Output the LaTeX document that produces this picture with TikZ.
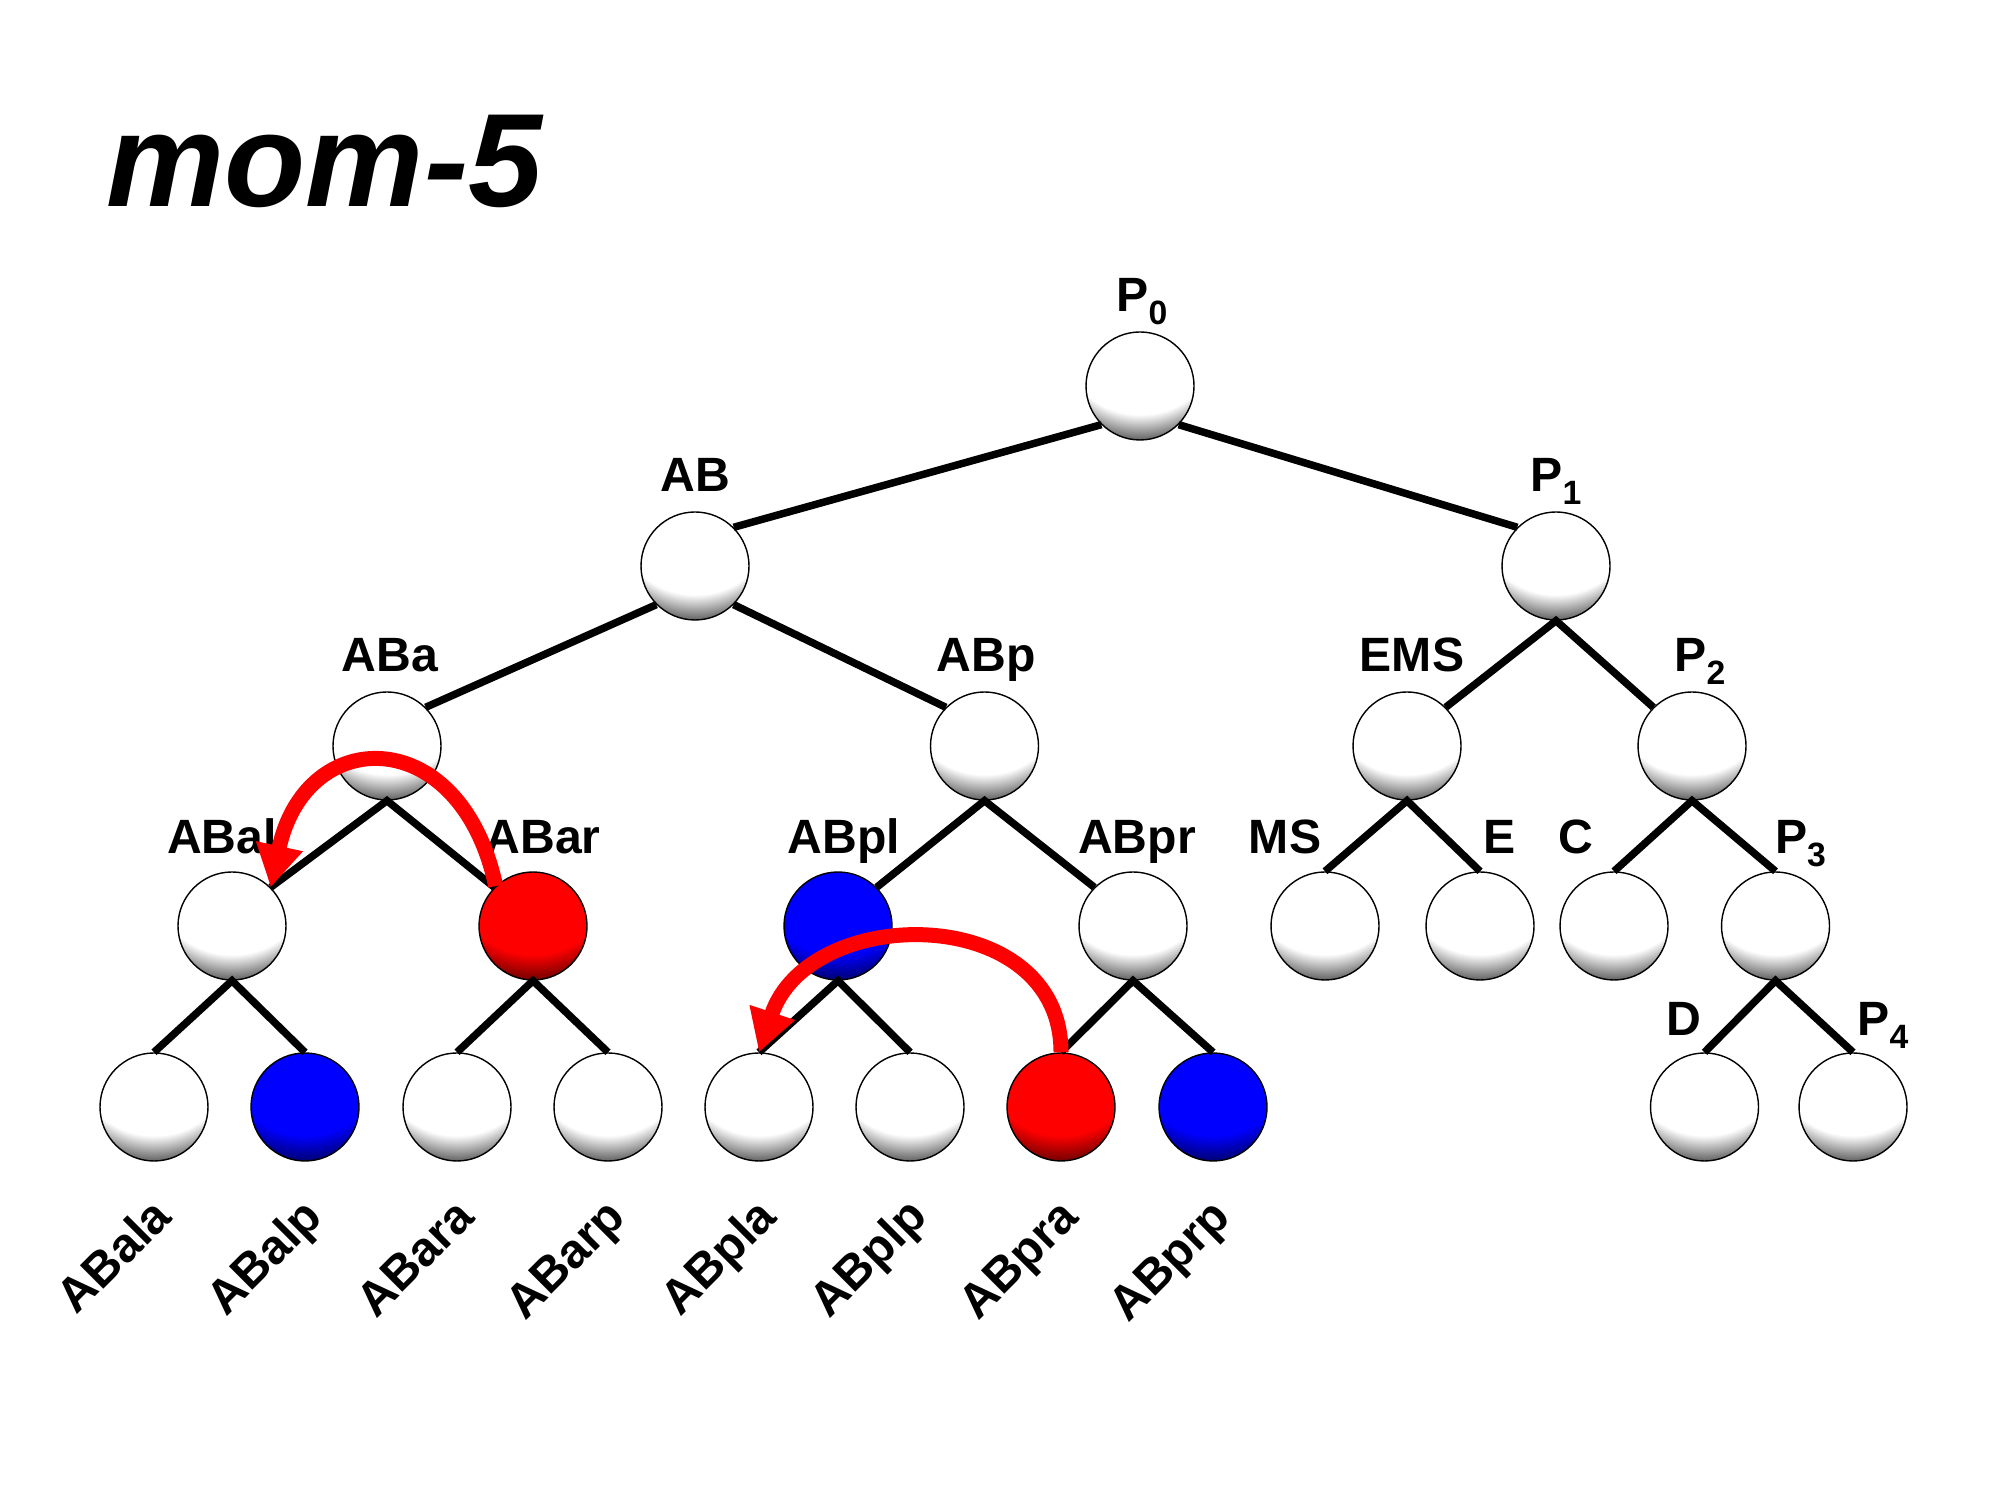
\documentclass[tikz,border=0pt]{standalone}
\usepackage{fontspec}
\setmainfont{Liberation Sans}
\usepackage{tikz}
\usetikzlibrary{calc,arrows.meta,positioning}

\pgfdeclareradialshading{cellwhite}{\pgfpoint{0bp}{40bp}}{color(0bp)=(white); color(38bp)=(white); color(46.5bp)=(black!62); color(100bp)=(black!62)}
\pgfdeclareradialshading{cellred}{\pgfpoint{0bp}{40bp}}{color(0bp)=(red); color(38bp)=(red); color(46.5bp)=(red!45!black); color(100bp)=(red!45!black)}
\pgfdeclareradialshading{cellblue}{\pgfpoint{0bp}{40bp}}{color(0bp)=(blue); color(38bp)=(blue); color(46.5bp)=(blue!45!black); color(100bp)=(blue!45!black)}

\newcommand{\psub}[1]{\raisebox{-0.13cm}{\fontsize{9.6pt}{10pt}\selectfont #1}}

\tikzset{
  cell/.style={circle, draw=black, line width=0.4pt, minimum size=1.08cm, inner sep=0pt, shade, shading=cellwhite},
  redcell/.style={cell, shading=cellred},
  bluecell/.style={cell, shading=cellblue},
  lab/.style={font=\fontsize{13.7pt}{16pt}\selectfont\bfseries, inner sep=0pt, anchor=base},
  rotlab/.style={lab, rotate=45, anchor=base east},
  link/.style={line width=0.075cm, line join=miter},
  swaparrow/.style={red, line width=0.15cm, -{Triangle[width=0.45cm,length=0.42cm]}}
}

\begin{document}
\begin{tikzpicture}
\useasboundingbox (0,0) rectangle (19.90,14.93);
\node[lab, font=\fontsize{37.8pt}{40pt}\selectfont\bfseries\itshape, anchor=base west] (title) at (1.06,12.86) {mom-5};

% cells, level by level
\node[cell] (P0) at (11.40,11.07) {};
\node[cell] (AB) at (6.95,9.27) {};
\node[cell] (P1) at (15.56,9.27) {};
\node[cell] (ABa) at (3.87,7.47) {};
\node[cell] (ABp) at (9.845,7.47) {};
\node[cell] (EMS) at (14.07,7.47) {};
\node[cell] (P2) at (16.92,7.47) {};
\node[cell] (ABal) at (2.32,5.67) {};
\node[redcell] (ABar) at (5.33,5.67) {};
\node[bluecell] (ABpl) at (8.38,5.67) {};
\node[cell] (ABpr) at (11.33,5.67) {};
\node[cell] (MS) at (13.25,5.67) {};
\node[cell] (E) at (14.80,5.67) {};
\node[cell] (C) at (16.14,5.67) {};
\node[cell] (P3) at (17.755,5.67) {};
\node[cell] (ABala) at (1.54,3.86) {};
\node[bluecell] (ABalp) at (3.05,3.86) {};
\node[cell] (ABara) at (4.57,3.86) {};
\node[cell] (ABarp) at (6.08,3.86) {};
\node[cell] (ABpla) at (7.59,3.86) {};
\node[cell] (ABplp) at (9.10,3.86) {};
\node[redcell] (ABpra) at (10.61,3.86) {};
\node[bluecell] (ABprp) at (12.13,3.86) {};
\node[cell] (D) at (17.045,3.86) {};
\node[cell] (P4) at (18.53,3.86) {};

% names
\node[lab] (tP0) at ($(P0.north)+(0.02,0.2)$) {P\psub{0}};
\node[lab] (tAB) at ($(AB.north)+(0,0.2)$) {AB};
\node[lab] (tP1) at ($(P1.north)+(0,0.2)$) {P\psub{1}};
\node[lab] (tABa) at ($(ABa.north)+(0.03,0.2)$) {ABa};
\node[lab] (tABp) at ($(ABp.north)+(0.015,0.2)$) {ABp};
\node[lab] (tEMS) at ($(EMS.north)+(0.05,0.2)$) {EMS};
\node[lab] (tP2) at ($(P2.north)+(0.08,0.2)$) {P\psub{2}};
\node[lab] (tABal) at ($(ABal.north)+(-0.10,0.18)$) {ABal};
\node[lab] (tABar) at ($(ABar.north)+(0.10,0.18)$) {ABar};
\node[lab] (tABpl) at ($(ABpl.north)+(0.06,0.18)$) {ABpl};
\node[lab] (tABpr) at ($(ABpr.north)+(0.04,0.18)$) {ABpr};
\node[lab] (tMS) at ($(MS.north)+(-0.40,0.18)$) {MS};
\node[lab] (tE) at ($(E.north)+(0.20,0.18)$) {E};
\node[lab] (tC) at ($(C.north)+(-0.38,0.18)$) {C};
\node[lab] (tP3) at ($(P3.north)+(0.25,0.18)$) {P\psub{3}};
\node[lab] (tD) at ($(D.north)+(-0.21,0.17)$) {D};
\node[lab] (tP4) at ($(P4.north)+(0.30,0.17)$) {P\psub{4}};
\node[rotlab] (tABala) at ($(ABala.south)+(0.2,-0.57)$) {ABala};
\node[rotlab] (tABalp) at ($(ABalp.south)+(0.2,-0.57)$) {ABalp};
\node[rotlab] (tABara) at ($(ABara.south)+(0.2,-0.57)$) {ABara};
\node[rotlab] (tABarp) at ($(ABarp.south)+(0.2,-0.57)$) {ABarp};
\node[rotlab] (tABpla) at ($(ABpla.south)+(0.2,-0.57)$) {ABpla};
\node[rotlab] (tABplp) at ($(ABplp.south)+(0.2,-0.57)$) {ABplp};
\node[rotlab] (tABpra) at ($(ABpra.south)+(0.2,-0.57)$) {ABpra};
\node[rotlab] (tABprp) at ($(ABprp.south)+(0.2,-0.57)$) {ABprp};

% lineage
\draw[link] (P0.-135) -- (AB.45);
\draw[link] (P0.-45) -- (P1.135);
\draw[link] (AB.-135) -- (ABa.45);
\draw[link] (AB.-45) -- (ABp.135);
\draw[link] (EMS.45) -- (P1.south) -- (P2.135);
\draw[link] (ABal.45) -- (ABa.south) -- (ABar.135);
\draw[link] (ABpl.45) -- (ABp.south) -- (ABpr.135);
\draw[link] (MS.north) -- (EMS.south) -- (E.north);
\draw[link] (C.north) -- (P2.south) -- (P3.north);
\draw[link] (ABala.north) -- (ABal.south) -- (ABalp.north);
\draw[link] (ABara.north) -- (ABar.south) -- (ABarp.north);
\draw[link] (ABpla.north) -- (ABpl.south) -- (ABplp.north);
\draw[link] (ABpra.north) -- (ABpr.south) -- (ABprp.north);
\draw[link] (D.north) -- (P3.south) -- (P4.north);

% fate swaps
\draw[swaparrow] (ABar.133) .. controls +(-0.35,1.64) and +(0.35,1.64) .. (ABal.45);
\draw[swaparrow] (ABpra.north) .. controls +(0,1.5) and +(0.5,1.5) .. (ABpla.north);
\end{tikzpicture}
\end{document}
